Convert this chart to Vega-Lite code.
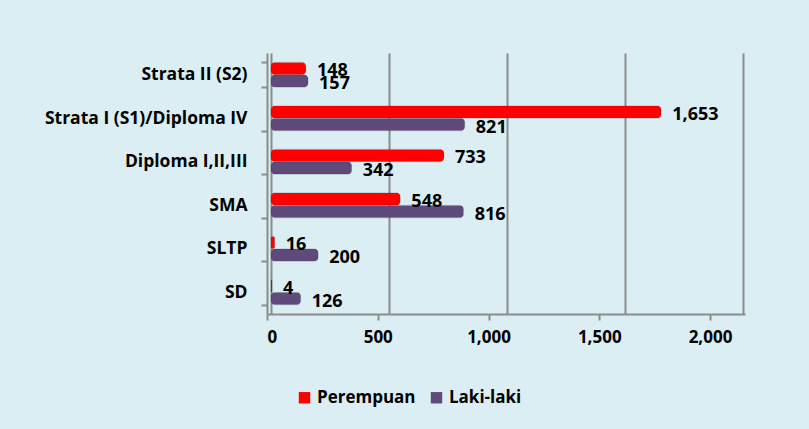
{
  "$schema": "https://vega.github.io/schema/vega-lite/v6.json",
  "autosize": "none",
  "width": 478,
  "height": 261,
  "padding": {"left": 267, "top": 53, "right": 64, "bottom": 115},
  "background": "#DAEEF3",
  "config": {
    "view": {"stroke": null},
    "font": "Open Sans",
    "axis": {"labelFont": "Open Sans", "labelFontWeight": "bold", "labelColor": "#000000"}
  },
  "data": {
    "values": [
      {"level": "Strata II (S2)", "gender": "Perempuan", "count": 148},
      {"level": "Strata II (S2)", "gender": "Laki-laki", "count": 157},
      {"level": "Strata I (S1)/Diploma IV", "gender": "Perempuan", "count": 1653},
      {"level": "Strata I (S1)/Diploma IV", "gender": "Laki-laki", "count": 821},
      {"level": "Diploma I,II,III", "gender": "Perempuan", "count": 733},
      {"level": "Diploma I,II,III", "gender": "Laki-laki", "count": 342},
      {"level": "SMA", "gender": "Perempuan", "count": 548},
      {"level": "SMA", "gender": "Laki-laki", "count": 816},
      {"level": "SLTP", "gender": "Perempuan", "count": 16},
      {"level": "SLTP", "gender": "Laki-laki", "count": 200},
      {"level": "SD", "gender": "Perempuan", "count": 4},
      {"level": "SD", "gender": "Laki-laki", "count": 126}
    ]
  },
  "encoding": {
    "y": {
      "field": "level",
      "type": "nominal",
      "title": null,
      "scale": {
        "domain": ["Strata II (S2)", "Strata I (S1)/Diploma IV", "Diploma I,II,III", "SMA", "SLTP", "SD"],
        "paddingInner": 0.42,
        "paddingOuter": 0.21
      },
      "axis": {
        "labelFontSize": 17.5,
        "labelPadding": 14,
        "labelLimit": 320,
        "tickBand": "extent",
        "tickColor": "#8C8C8C",
        "tickWidth": 2,
        "tickSize": 6,
        "domainColor": "#8C8C8C",
        "domainWidth": 2
      }
    },
    "yOffset": {
      "field": "gender",
      "type": "nominal",
      "scale": {"domain": ["Perempuan", "Laki-laki"], "paddingInner": 0, "paddingOuter": 0}
    }
  },
  "layer": [
    {
      "layer": [
        {
          "mark": {"type": "bar", "cornerRadius": 4, "stroke": "#00000033", "strokeWidth": 0.5},
          "encoding": {
            "x": {
              "field": "count",
              "type": "quantitative",
              "scale": {"domain": [-17, 2008], "nice": false, "zero": false},
              "axis": {
                "orient": "top",
                "title": null,
                "labels": false,
                "ticks": false,
                "domain": false,
                "grid": true,
                "gridColor": "#8C8C8C",
                "gridWidth": 2,
                "values": [0, 500, 1000, 1500, 2000]
              }
            },
            "color": {
              "field": "gender",
              "type": "nominal",
              "scale": {"domain": ["Perempuan", "Laki-laki"], "range": ["#FF0000", "#604A7B"]},
              "legend": {
                "title": null,
                "orient": "none",
                "legendX": 29,
                "legendY": 336,
                "direction": "horizontal",
                "symbolType": "square",
                "symbolSize": 130,
                "symbolStrokeWidth": 0,
                "labelFont": "Open Sans",
                "labelFontSize": 17,
                "labelFontWeight": "bold",
                "labelColor": "#000000",
                "labelOffset": 4,
                "columnPadding": 12
              }
            }
          }
        },
        {
          "mark": {"type": "text", "align": "left", "baseline": "middle", "dx": 11, "dy": 3, "font": "Open Sans", "fontSize": 18, "fontWeight": "bold", "color": "#000000"},
          "encoding": {
            "x": {"field": "count", "type": "quantitative"},
            "text": {"field": "count", "type": "quantitative", "format": ",.0f"}
          }
        }
      ]
    },
    {
      "mark": {"type": "point", "opacity": 0},
      "encoding": {
        "x": {
          "field": "count",
          "type": "quantitative",
          "scale": {"domain": [0, 2158], "nice": false, "zero": true},
          "axis": {
            "orient": "bottom",
            "title": null,
            "grid": false,
            "values": [0, 500, 1000, 1500, 2000],
            "format": ",.0f",
            "labelFontSize": 17,
            "labelPadding": 9,
            "tickColor": "#8C8C8C",
            "tickWidth": 2,
            "tickSize": 6,
            "domainColor": "#8C8C8C",
            "domainWidth": 2
          }
        }
      }
    }
  ],
  "resolve": {"scale": {"x": "independent"}, "axis": {"x": "independent"}}
}
